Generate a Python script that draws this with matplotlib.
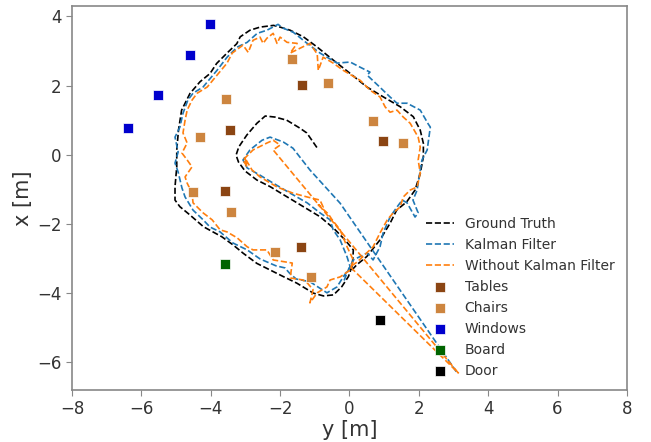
import matplotlib
matplotlib.use("Agg")
import matplotlib.pyplot as plt

# ground truth trajectory (y, x) in metres
gt_y = [-0.94, -1.23, -1.43, -1.81, -2.15, -2.43, -2.67, -2.96, -3.19, -3.27,
        -3.20, -3.01, -2.67, -2.29, -1.81, -1.33, -0.85, -0.46, -0.13, 0.11,
        0.10, 0.07, -0.03, -0.22, -0.46, -0.75, -1.04, -1.52, -1.91, -2.29,
        -2.67, -3.06, -3.35, -3.68, -4.21, -4.60, -4.89, -5.03, -5.03, -4.98,
        -4.98, -4.93, -4.84, -4.60, -4.31, -4.02, -3.83, -3.54, -3.25, -3.15,
        -2.87, -2.58, -2.19, -2.00, -1.71, -1.33, -0.94, -0.46, 0.02, 0.50,
        0.98, 1.46, 1.84, 2.04, 2.13, 2.13, 2.04, 1.89, 1.65, 1.36,
        1.17, 0.88, 0.50, 0.21, 0.07]
gt_x = [0.21, 0.63, 0.77, 1.00, 1.09, 1.12, 0.91, 0.57, 0.23, -0.01,
        -0.21, -0.47, -0.73, -0.92, -1.21, -1.50, -1.79, -2.12, -2.46, -2.75,
        -2.98, -3.23, -3.52, -3.81, -4.05, -4.08, -4.00, -3.71, -3.52, -3.33,
        -3.14, -2.85, -2.61, -2.37, -2.08, -1.74, -1.50, -1.31, -0.92, -0.35,
        0.14, 0.71, 1.29, 1.77, 2.11, 2.35, 2.64, 2.93, 3.21, 3.41,
        3.60, 3.69, 3.74, 3.69, 3.60, 3.41, 3.12, 2.73, 2.35, 1.96,
        1.67, 1.39, 1.10, 0.71, 0.33, -0.06, -0.54, -1.02, -1.36, -1.60,
        -1.98, -2.46, -2.94, -3.18, -3.33]

# kalman filter estimate
kf_y = [3.08, -0.27, -1.14, -1.63, -1.91, -2.29, -2.52, -2.87, -3.07, -2.95,
        -2.58, -2.20, -1.71, -1.22, -0.85, -0.56, -0.47, -0.27, -0.07, 0.02,
        -0.18, -0.36, -0.65, -1.14, -1.54, -1.74, -1.86, -2.12, -2.58, -2.95,
        -3.36, -3.73, -4.02, -4.22, -4.51, -4.74, -4.83, -4.94, -5.03, -4.94,
        -5.03, -4.89, -4.80, -4.66, -4.51, -4.22, -3.82, -3.53, -3.24, -2.95,
        -2.66, -2.38, -2.06, -1.91, -1.62, -1.22, -0.85, -0.36, 0.02, 0.31,
        0.59, 0.51, 0.88, 1.17, 1.37, 1.66, 2.04, 2.27, 2.33, 2.24,
        2.09, 2.04, 1.95, 1.83, 1.98, 1.89, 1.66, 1.52, 1.37, 1.17,
        0.97, 0.88, 0.68, 0.51, 0.11, -0.07, -0.18]
kf_x = [-6.27, -1.40, -0.44, 0.19, 0.37, 0.51, 0.42, 0.14, -0.15, -0.38,
        -0.59, -0.82, -1.11, -1.39, -1.68, -1.88, -2.17, -2.46, -2.95, -3.24,
        -3.53, -3.82, -3.99, -3.67, -3.59, -3.41, -3.27, -3.21, -3.01, -2.75,
        -2.55, -2.23, -2.09, -1.88, -1.60, -1.22, -0.96, -0.50, -0.24, 0.08,
        0.51, 0.80, 1.20, 1.58, 1.78, 1.96, 2.44, 2.82, 3.11, 3.25,
        3.51, 3.60, 3.77, 3.66, 3.54, 3.22, 2.94, 2.65, 2.68, 2.53,
        2.39, 2.30, 1.95, 1.67, 1.49, 1.49, 1.29, 0.89, 0.80, 0.14,
        -0.15, -0.44, -1.02, -1.31, -1.68, -1.80, -1.39, -1.31, -1.51, -1.80,
        -2.26, -2.66, -3.04, -2.84, -3.04, -3.41, -3.70]

# raw estimate without kalman filter
raw_y = [3.13, -2.20, -2.00, -2.20, -2.38, -2.78, -3.07, -2.95, -3.01, -2.81,
         -2.58, -2.09, -1.63, -1.22, -0.85, -0.76, -0.90, -0.61, -0.50, -0.27,
         -0.07, 0.11, 0.02, -0.27, -0.56, -0.65, -0.93, -1.14, -1.05, -1.22,
         -1.34, -1.71, -1.65, -2.20, -2.38, -2.78, -2.95, -3.24, -3.53, -3.73,
         -3.96, -4.22, -4.51, -4.54, -4.68, -4.74, -4.54, -4.68, -4.83, -4.68,
         -4.80, -4.74, -4.68, -4.54, -4.39, -4.10, -3.82, -3.53, -3.38, -3.07,
         -2.92, -2.78, -2.58, -2.49, -2.38, -2.20, -2.09, -2.00, -1.80, -1.51,
         -1.71, -1.14, -0.93, -0.90, -0.76, -0.47, -0.18, 0.31, 0.59, 0.88,
         1.03, 1.17, 1.37, 1.55, 1.75, 1.98, 2.04, 1.98, 2.04, 1.95,
         1.75, 1.55, 1.46, 1.26, 1.09, 0.88, 0.68, 0.39, 0.22, 0.02,
         3.15]
raw_x = [-6.30, 0.14, 0.28, 0.42, 0.34, 0.14, -0.15, -0.35, -0.10, -0.44,
         -0.64, -0.93, -1.11, -1.22, -1.31, -1.51, -1.45, -1.71, -1.88, -2.17,
         -2.66, -3.04, -3.33, -3.53, -3.62, -3.82, -3.99, -4.28, -3.90, -3.70,
         -3.62, -3.56, -3.13, -3.04, -2.75, -2.75, -2.66, -2.40, -2.23, -2.17,
         -1.88, -1.68, -1.39, -1.11, -0.82, -0.64, -0.35, -0.15, 0.05, 0.34,
         0.63, 1.00, 1.29, 1.58, 1.78, 1.96, 2.30, 2.65, 2.94, 3.17,
         2.96, 3.31, 3.40, 3.22, 3.37, 3.51, 3.22, 3.40, 3.25, 3.22,
         2.94, 3.22, 2.91, 2.44, 2.82, 2.65, 2.44, 2.15, 1.87, 1.67,
         1.38, 1.23, 1.29, 1.09, 0.91, 0.51, 0.22, -0.15, -0.53, -0.93,
         -1.02, -1.22, -1.51, -1.68, -1.88, -2.26, -2.66, -2.94, -3.10, -3.24,
         -6.32]

# landmarks
tables_y = [-1.37, -3.44, 0.97, -3.59, -1.39]
tables_x = [2.02, 0.73, 0.40, -1.06, -2.66]
chairs_y = [-1.65, -0.62, -3.57, -4.31, 0.67, 1.55, -4.52, -3.41, -2.16, -1.10]
chairs_x = [2.76, 2.07, 1.60, 0.52, 0.99, 0.35, -1.09, -1.66, -2.81, -3.53]
windows_y = [-6.38, -5.52, -4.60, -4.02]
windows_x = [0.77, 1.72, 2.88, 3.79]
board_y = [-3.58]
board_x = [-3.15]
door_y = [0.89]
door_x = [-4.77]

text_col = "#333333"
plt.rcParams["font.family"] = "DejaVu Sans"

fig = plt.figure(figsize=(6.51, 4.42), dpi=100)
ax = fig.add_axes([0.1106, 0.1176, 0.8525, 0.8688])

ax.plot(gt_y, gt_x, "--", color="black", lw=1.2, label="Ground Truth")
ax.plot(kf_y, kf_x, "--", color="#1f77b4", lw=1.2, label="Kalman Filter")
ax.plot(raw_y, raw_x, "--", color="#ff7f0e", lw=1.2, label="Without Kalman Filter")

mk = dict(marker="s", s=42, edgecolors="white", linewidths=0.5, zorder=3)
ax.scatter(tables_y, tables_x, color="#8B4513", label="Tables", **mk)
ax.scatter(chairs_y, chairs_x, color="#CD853F", label="Chairs", **mk)
ax.scatter(windows_y, windows_x, color="#0000CD", label="Windows", **mk)
ax.scatter(board_y, board_x, color="#006400", label="Board", **mk)
ax.scatter(door_y, door_x, color="black", label="Door", **mk)

ax.set_xlim(-8, 8)
ax.set_ylim(-6.8, 4.3)
ax.set_xticks([-8, -6, -4, -2, 0, 2, 4, 6, 8])
ax.set_yticks([-6, -4, -2, 0, 2, 4])
ax.set_xlabel("y [m]", fontsize=15, color=text_col, labelpad=1)
ax.set_ylabel("x [m]", fontsize=15, color=text_col, labelpad=3)
ax.tick_params(labelsize=12, colors=text_col, color="#888888", length=4)
for sp in ax.spines.values():
    sp.set_color("#888888")
    sp.set_linewidth(1.2)

leg = ax.legend(loc="lower right", frameon=False, fontsize=10)
for t in leg.get_texts():
    t.set_color(text_col)

fig.savefig("out.png", dpi=100)
